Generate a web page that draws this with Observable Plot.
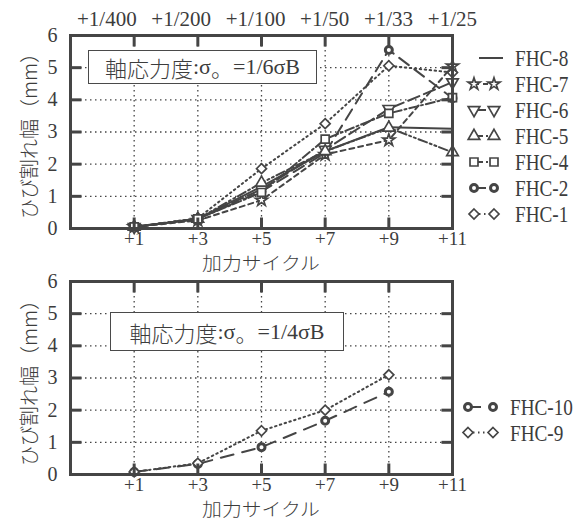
<!DOCTYPE html>
<html><head><meta charset="utf-8">
<script src="https://cdn.jsdelivr.net/npm/d3@7"></script>
<script src="https://cdn.jsdelivr.net/npm/@observablehq/plot@0.6"></script>
<style>
body{margin:0;background:#fff;}
#root{position:relative;width:587px;height:521px;overflow:hidden;font-family:"Liberation Serif","Tinos","Times New Roman","DejaVu Serif",serif;color:#3c3c3c;}
.abs{position:absolute;}
.drift{width:400px;display:flex;justify-content:space-between;font-size:21px;line-height:22px;white-space:nowrap;}
.box{background:#fff;border:1.5px solid #4a4a4a;display:flex;align-items:center;justify-content:center;font-size:22px;line-height:24px;white-space:nowrap;box-sizing:border-box;}
.cjk{font-family:"Noto Sans CJK JP",sans-serif;font-weight:300;}
.ylab{font-size:20px;line-height:21px;white-space:nowrap;transform:translate(-50%,-50%) rotate(-90deg);font-family:"Noto Sans CJK JP",sans-serif;font-weight:300;}
.xlab{font-size:18px;line-height:18px;white-space:nowrap;transform:translate(-50%,-50%) scaleX(1.1);font-family:"Noto Sans CJK JP",sans-serif;font-weight:300;}
</style></head><body><div id="root"></div>
<script>
// ---------- data ----------
const cycles = [1, 3, 5, 7, 9, 11];
const cyclesLow = [1, 3, 5, 7, 9];
const xTicks = [1, 3, 5, 7, 9, 11];
const yTicks = [0, 1, 2, 3, 4, 5, 6];
const gridYs = [1, 2, 3, 4, 5];
const gridXs = [1, 3, 5, 7, 9];
const driftLabels = ["+1/400", "+1/200", "+1/100", "+1/50", "+1/33", "+1/25"];
const fhc8 = [0.05, 0.3, 1.3, 2.4, 3.15, 3.1];
const fhc7 = [0.05, 0.25, 0.88, 2.3, 2.75, 5.05];
const fhc6 = [0.05, 0.3, 1.22, 2.45, 3.72, 4.55];
const fhc5 = [0.05, 0.3, 1.42, 2.4, 3.13, 2.37];
const fhc4 = [0.05, 0.3, 1.12, 2.78, 3.58, 4.07];
const fhc2 = [0.05, 0.3, 1.15, 2.35, 5.55, 4.05];
const fhc1 = [0.05, 0.32, 1.86, 3.26, 5.06, 4.85];
const fhc10 = [0.08, 0.33, 0.85, 1.67, 2.57];
const fhc9 = [0.08, 0.35, 1.36, 2.0, 3.1];
const topTitle = ["軸応力度", ":σ", "。", "=1/6σB"];
const bottomTitle = ["軸応力度", ":σ", "。", "=1/4σB"];
const xLabel = "加力サイクル";
const yLabel = "ひび割れ幅（mm）";

// ---------- styles ----------
const INK = "#454545";
const SERIF = "'Liberation Serif', Tinos, 'Times New Roman', 'DejaVu Serif', serif";
const topSeries = [
  {name: "FHC-8", values: fhc8, symbol: null, dash: null},
  {name: "FHC-7", values: fhc7, symbol: "star", r: 3.8, dash: "5,4"},
  {name: "FHC-6", values: fhc6, symbol: "triangle", rotate: 180, r: 4.3, dash: "12,5"},
  {name: "FHC-5", values: fhc5, symbol: "triangle", r: 4.3, dash: "9,3,2,3,2,3"},
  {name: "FHC-4", values: fhc4, symbol: "square", r: 4.5, dash: "9,3,2,3"},
  {name: "FHC-2", values: fhc2, symbol: "circle", bull: true, r: 3.5, dash: "12,7"},
  {name: "FHC-1", values: fhc1, symbol: "diamond2", r: 4.5, dash: "1.5,3.5"}
];
const bottomSeries = [
  {name: "FHC-10", values: fhc10, symbol: "circle", bull: true, r: 3.5, dash: "13,9"},
  {name: "FHC-9", values: fhc9, symbol: "diamond2", r: 4.5, dash: "1.5,3.5"}
];
const markerOrder = ["FHC-2", "FHC-10", "FHC-9", "FHC-1", "FHC-7", "FHC-6", "FHC-5", "FHC-4"];

const hline = {draw(ctx) { ctx.moveTo(-5.5, 0); ctx.lineTo(5.5, 0); }};
const vline = {draw(ctx) { ctx.moveTo(0, -5.5); ctx.lineTo(0, 5.5); }};

function chart(series, cyc, o) {
  const rows = series.flatMap(s => s.values.map((v, i) => ({name: s.name, x: cyc[i], y: v})));
  const marks = [
    Plot.gridY(gridYs, {stroke: INK, strokeOpacity: 1, strokeWidth: 1.3, strokeDasharray: "1.5,3.5"}),
    Plot.gridX(gridXs, {stroke: INK, strokeOpacity: 1, strokeWidth: 1.3, strokeDasharray: "1.5,3.5"})
  ];
  for (const s of series) {
    marks.push(Plot.line(rows.filter(r => r.name === s.name),
      {x: "x", y: "y", stroke: INK, strokeWidth: 2, strokeDasharray: s.dash || undefined}));
  }
  const ordered = [...series].sort((a, b) => markerOrder.indexOf(a.name) - markerOrder.indexOf(b.name));
  for (const s of ordered) {
    if (!s.symbol) continue;
    const d = rows.filter(r => r.name === s.name);
    marks.push(Plot.dot(d, {x: "x", y: "y", symbol: s.symbol, r: s.r, rotate: s.rotate || 0,
      fill: "white", stroke: INK, strokeWidth: s.bull ? 3 : 1.7}));
  }
  marks.push(
    Plot.frame({stroke: INK, strokeWidth: 3}),
    Plot.dot(yTicks, {y: d => d, frameAnchor: "left", dx: 5.5, symbol: hline, fill: "none", stroke: INK, strokeWidth: 3}),
    Plot.dot(yTicks, {y: d => d, frameAnchor: "right", dx: -5.5, symbol: hline, fill: "none", stroke: INK, strokeWidth: 3}),
    Plot.dot(xTicks, {x: d => d, frameAnchor: "bottom", dy: -5.5, symbol: vline, fill: "none", stroke: INK, strokeWidth: 3}),
    Plot.dot(xTicks, {x: d => d, frameAnchor: "top", dy: 5.5, symbol: vline, fill: "none", stroke: INK, strokeWidth: 3}),
    Plot.axisY(yTicks, {tickSize: 0, tickPadding: 13, fontSize: 20, label: null, fill: "#3c3c3c"}),
    Plot.axisX(xTicks, {tickSize: 0, tickPadding: 3, fontSize: 19, label: null, tickFormat: d => "+" + d, fill: "#3c3c3c"})
  );
  return Plot.plot({
    width: 587, height: o.height, marginLeft: 70, marginRight: 135, marginTop: o.mt, marginBottom: o.mb,
    x: {domain: [-1, 11], label: null}, y: {domain: [0, 6], label: null},
    style: {fontFamily: SERIF, background: "transparent", color: INK, overflow: "visible"},
    marks
  });
}

const root = document.getElementById("root");
function place(el, left, topPx) { el.classList.add("abs"); el.style.left = left + "px"; el.style.top = topPx + "px"; root.appendChild(el); return el; }

const chartTop = chart(topSeries, cycles, {height: 270, mt: 35, mb: 42});
place(chartTop, 0, 0);
const chartBot = chart(bottomSeries, cyclesLow, {height: 254, mt: 14, mb: 47});
place(chartBot, 0, 267);

// drift row
const drift = document.createElement("div"); drift.className = "drift";
for (const t of driftLabels) { const s = document.createElement("span"); s.textContent = t; drift.appendChild(s); }
place(drift, 77, 8);

// boxes
function box(parts, l, t, w, h) {
  const b = document.createElement("div"); b.className = "box";
  parts.forEach((p, i) => { const s = document.createElement("span"); s.textContent = p; if (i === 0 || i === 2) s.className = "cjk"; b.appendChild(s); });
  b.style.width = w + "px"; b.style.height = h + "px"; place(b, l, t);
}
box(topTitle, 88, 50, 229, 34);
box(bottomTitle, 110, 312, 234, 39);

// axis titles
function lab(cls, text, cx, cy) { const d = document.createElement("div"); d.className = cls; d.textContent = text; place(d, cx, cy); }
lab("ylab", yLabel, 28, 131);
lab("ylab", yLabel, 28, 378);
lab("xlab", xLabel, 261, 262);
lab("xlab", xLabel, 261, 507.5);

// legends
const ov = d3.select(root).append("svg").attr("class", "abs").attr("width", 587).attr("height", 521)
  .style("left", "0px").style("top", "0px").style("pointer-events", "none");
const symMap = {star: d3.symbolStar, triangle: d3.symbolTriangle, square: d3.symbolSquare, circle: d3.symbolCircle, diamond2: d3.symbolDiamond2};
function legend(series, y0, step, x0, x1, tx) {
  series.forEach((s, i) => {
    const y = y0 + i * step;
    const g = ov.append("g");
    if (!s.symbol) {
      g.append("line").attr("x1", x0 + 5).attr("x2", x1 + 9).attr("y1", y).attr("y2", y).attr("stroke", INK).attr("stroke-width", 2);
    } else {
      g.append("line").attr("x1", x0).attr("x2", x1).attr("y1", y).attr("y2", y).attr("stroke", INK).attr("stroke-width", 2)
        .attr("stroke-dasharray", s.dash);
      for (const x of [x0, x1]) {
        g.append("path").attr("d", d3.symbol(symMap[s.symbol], Math.PI * s.r * s.r)())
          .attr("transform", `translate(${x},${y}) rotate(${s.rotate || 0})`)
          .attr("fill", "white").attr("stroke", INK).attr("stroke-width", s.bull ? 3 : 1.7);
      }
    }
    g.append("text").text(s.name).attr("transform", `translate(${tx},${y + 8}) scale(0.8,1)`)
      .attr("font-family", SERIF).attr("font-size", 24).attr("fill", "#3c3c3c");
  });
}
legend(topSeries, 58, 26, 474, 494, 515);
legend(bottomSeries, 407, 25.5, 468, 493, 510);
</script></body></html>
